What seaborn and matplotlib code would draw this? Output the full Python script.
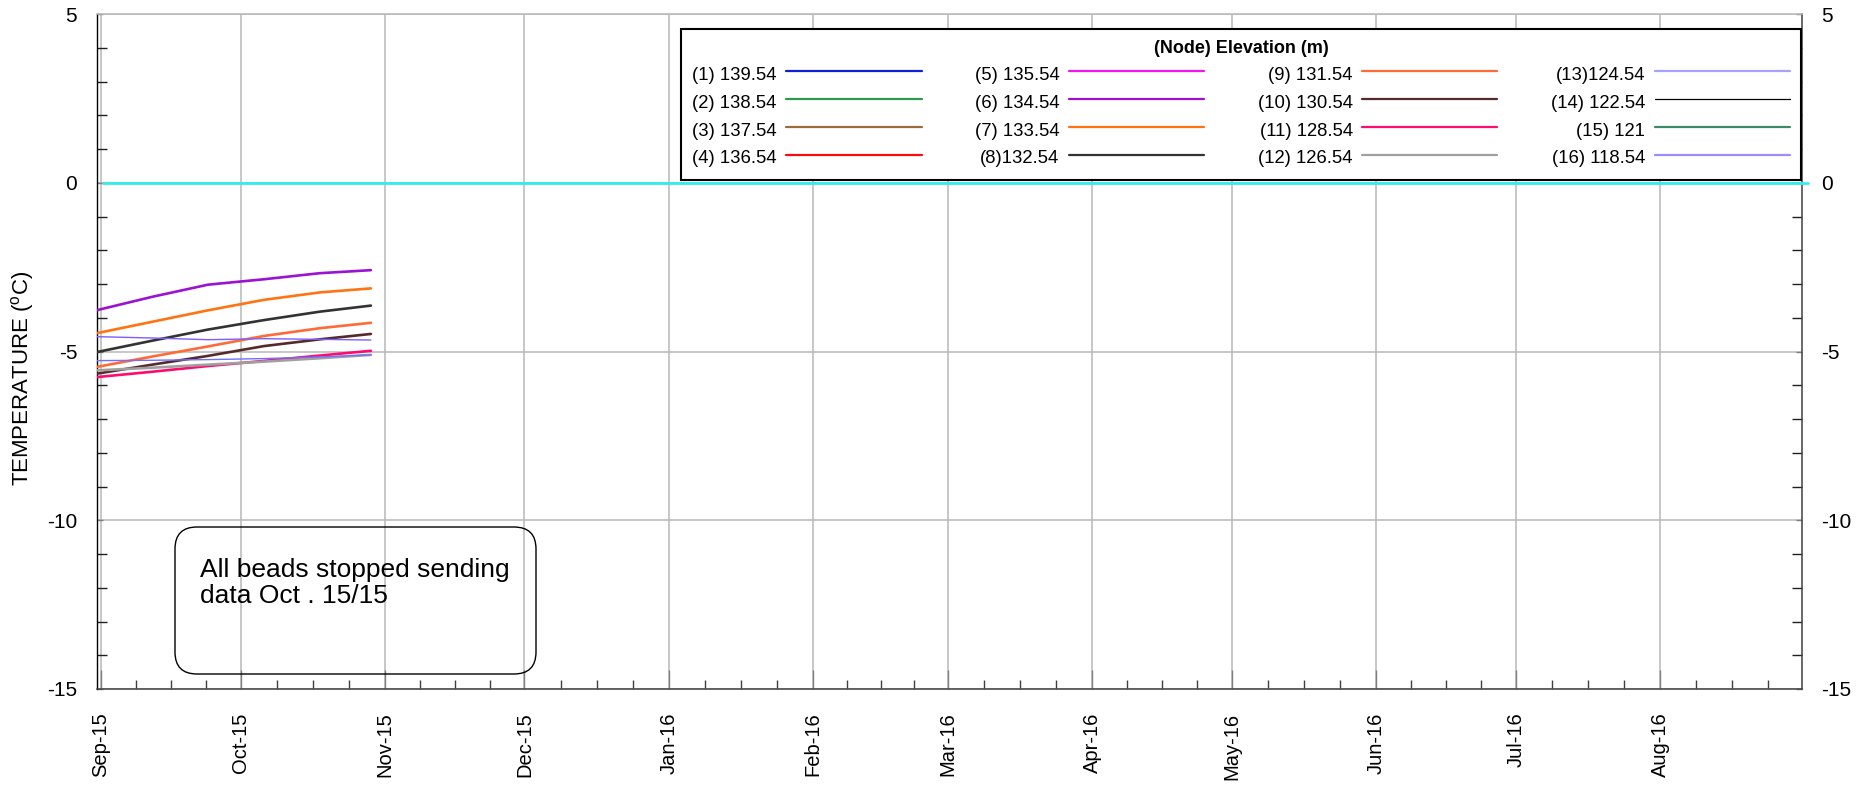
import numpy as np
import pandas as pd
import matplotlib
matplotlib.use("Agg")
import matplotlib.pyplot as plt
import matplotlib.dates as mdates
from matplotlib.ticker import MultipleLocator, FixedLocator
from matplotlib.lines import Line2D
from matplotlib.patches import FancyBboxPatch
from matplotlib.transforms import IdentityTransform
import seaborn as sns

# ---------------- data ----------------
dates = pd.to_datetime(["2015-08-31", "2015-09-12", "2015-09-24",
                        "2015-10-06", "2015-10-18", "2015-10-29"])

node_labels = ["(1) 139.54", "(2) 138.54", "(3) 137.54", "(4) 136.54",
               "(5) 135.54", "(6) 134.54", "(7) 133.54", "(8)132.54",
               "(9) 131.54", "(10) 130.54", "(11) 128.54", "(12) 126.54",
               "(13)124.54", "(14) 122.54", "(15) 121", "(16) 118.54"]

node_colors = ["#1020D8", "#2E9A50", "#9C6B3C", "#FF0A0A",
               "#F514F0", "#9B12D2", "#FF7410", "#333333",
               "#FF6A35", "#552A2A", "#FF0A6E", "#A0A0A0",
               "#A4A4F8", "#000000", "#3A8C68", "#9C8CFF"]

# series with readings (nodes 1-5, 14, 15 have no data)
node06 = [-3.78, -3.38, -3.02, -2.86, -2.68, -2.59]
node07 = [-4.46, -4.12, -3.78, -3.47, -3.25, -3.13]
node08 = [-5.02, -4.68, -4.35, -4.07, -3.82, -3.64]
node09 = [-5.46, -5.15, -4.85, -4.54, -4.31, -4.15]
node10 = [-5.66, -5.39, -5.13, -4.84, -4.64, -4.48]
node11 = [-5.76, -5.60, -5.43, -5.28, -5.12, -4.98]
node12 = [-5.56, -5.48, -5.39, -5.30, -5.20, -5.10]
node13 = [-5.27, -5.26, -5.24, -5.21, -5.16, -5.10]
node16 = [-4.56, -4.60, -4.65, -4.62, -4.64, -4.66]

series = {6: node06, 7: node07, 8: node08, 9: node09, 10: node10,
          11: node11, 12: node12, 13: node13, 16: node16}
series_colors = {13: "#7070FF", 16: "#7E5CFF"}
thin_nodes = [13, 16]

zero_dates = pd.to_datetime(["2015-09-01 10:00", "2016-09-01 18:00"])
zero_vals = [0.0, 0.0]

y_limits = (-15, 5)
x_limits = (pd.Timestamp("2015-08-31 02:00"), pd.Timestamp("2016-08-31 12:00"))

# ---------------- style ----------------
sns.set_theme(style="white")
plt.rcParams["font.family"] = ["Liberation Sans", "DejaVu Sans"]
plt.rcParams["mathtext.fontset"] = "custom"
plt.rcParams["mathtext.rm"] = "Liberation Sans"
plt.rcParams["mathtext.it"] = "Liberation Sans:italic"
plt.rcParams["axes.unicode_minus"] = False
plt.rcParams["text.color"] = "black"
plt.rcParams["axes.labelcolor"] = "black"

W, H = 1876, 787
fig = plt.figure(figsize=(W / 100, H / 100), dpi=100)
ax_l, ax_r, ax_t, ax_b = 96.7, 1802.0, 14.0, 689.0
ax = fig.add_axes([ax_l / W, 1 - ax_b / H, (ax_r - ax_l) / W, (ax_b - ax_t) / H])

# zero reference line
sns.lineplot(x=zero_dates, y=zero_vals, ax=ax, color="#33EDED", lw=2.0,
             legend=False, zorder=3)
ax.lines[-1].set_clip_on(False)

for node, vals in series.items():
    sns.lineplot(x=dates, y=vals, ax=ax,
                 color=series_colors.get(node, node_colors[node - 1]),
                 lw=1.0 if node in thin_nodes else 1.9,
                 legend=False, zorder=4)

ax.set_xlim(x_limits)
ax.set_ylim(*y_limits)

# grid
ax.set_axisbelow(True)
ax.grid(True, which="major", color="#B8B8B8", lw=1.1)
ax.grid(False, which="minor")

# x ticks
ax.xaxis.set_major_locator(mdates.MonthLocator())
ax.xaxis.set_major_formatter(mdates.DateFormatter("%b-%y"))
months = pd.date_range("2015-08-01", "2016-10-01", freq="MS")
minor = []
for a, b in zip(months[:-1], months[1:]):
    for k in (1, 2, 3):
        minor.append(a + (b - a) * k / 4)
ax.xaxis.set_minor_locator(FixedLocator(mdates.date2num(minor)))
ax.tick_params(axis="x", which="major", direction="in", length=13.7, width=1.0,
               color="#808080", labelsize=14.5, pad=17, labelrotation=90,
               labelcolor="black", bottom=True)
ax.tick_params(axis="x", which="minor", direction="in", length=6.7, width=1.0,
               color="#404040", bottom=True)

# y ticks
ax.set_yticks(np.arange(-15, 6, 5))
ax.yaxis.set_minor_locator(MultipleLocator(1))
ax.tick_params(axis="y", which="major", direction="in", length=4, width=1.0,
               color="#808080", left=True, right=True, labelleft=True,
               labelright=True, labelsize=15, pad=14, labelcolor="black")
ax.tick_params(axis="y", which="minor", direction="in", length=7, width=1.0,
               color="#202020", left=True, right=True)

ax.spines["left"].set_color("black")
ax.spines["left"].set_linewidth(1.0)
for s in ["bottom", "right"]:
    ax.spines[s].set_color("#404040")
    ax.spines[s].set_linewidth(1.1)
ax.spines["top"].set_color("#B8B8B8")
ax.spines["top"].set_linewidth(1.1)

ax.set_xlabel("")
ax.set_ylabel("TEMPERATURE ($^{\\mathrm{o}}$C)", fontsize=16)
ax.yaxis.set_label_coords((36.0 - ax_l) / (ax_r - ax_l), (ax_b - 378) / (ax_b - ax_t))

# legend
handles = [Line2D([], [], color=c, lw=0.9 if i == 13 else 1.6)
           for i, c in enumerate(node_colors)]
lx0, lx1, ly0 = 681.0, 1801.0, 29.0
bx = (lx0 - ax_l) / (ax_r - ax_l)
bw = (lx1 - lx0) / (ax_r - ax_l)
btop = (ax_b - ly0) / (ax_b - ax_t)
leg = ax.legend(handles, node_labels, ncol=4, loc="upper left",
                bbox_to_anchor=(bx, btop - 0.3, bw, 0.3), mode="expand",
                borderaxespad=0, markerfirst=False,
                title="(Node) Elevation (m)",
                title_fontproperties={"weight": "bold", "size": 13},
                fontsize=13.3, frameon=True, fancybox=False,
                edgecolor="black", facecolor="white", framealpha=1,
                handlelength=7.33, handletextpad=0.51, handleheight=1.5,
                labelspacing=0.29, borderpad=0.6)
leg.get_frame().set_linewidth(1.5)
leg.set_zorder(10)

# annotation box
box = FancyBboxPatch((175, H - 674), 361, 147,
                     boxstyle="round,pad=0,rounding_size=22",
                     transform=IdentityTransform(), facecolor="none",
                     edgecolor="black", lw=1.0)
fig.add_artist(box)
fig.text(200 / W, (H - 558.5) / H, "All beads stopped sending\ndata Oct . 15/15",
         fontsize=19, ha="left", va="top", linespacing=1.08, color="black",
         transform=fig.transFigure)

fig.savefig("out.png", dpi=100)
